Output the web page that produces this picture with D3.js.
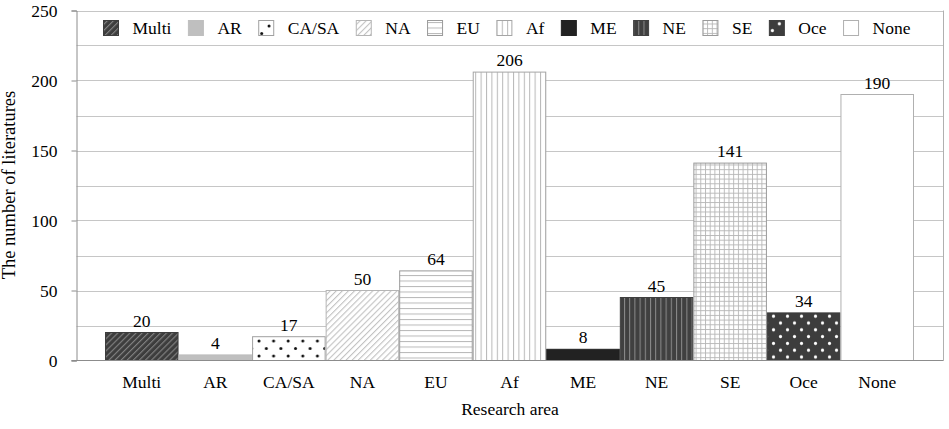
<!DOCTYPE html>
<html><head><meta charset="utf-8">
<script src="https://cdn.jsdelivr.net/npm/d3@7"></script>
<style>body{margin:0;background:#fff}svg{display:block}</style>
</head><body><svg id="c" width="949" height="429"></svg>
<script>
const categories = ["Multi","AR","CA/SA","NA","EU","Af","ME","NE","SE","Oce","None"];
const values = [20,4,17,50,64,206,8,45,141,34,190];
const yTicks = [0,50,100,150,200,250];
const yGrid = [25,50,75,100,125,150,175,200,225,250];

const FONT = "'Liberation Serif', 'Times New Roman', Tinos, 'DejaVu Serif', serif";
const svg = d3.select("#c").attr("font-family",FONT);
const defs = svg.append("defs");
function pat(id,w,h,bg,draw,transform){
  const p = defs.append("pattern").attr("id",id).attr("patternUnits","userSpaceOnUse").attr("width",w).attr("height",h);
  if(transform) p.attr("patternTransform",transform);
  p.append("rect").attr("width",w).attr("height",h).attr("fill",bg);
  draw(p);
}
pat("p-multi",4.3,10,"#3d3d3d",p=>p.append("line").attr("x1",0.6).attr("x2",0.6).attr("y1",0).attr("y2",10).attr("stroke","#8a8a8a").attr("stroke-width",1),"rotate(45)");
pat("p-na",4.3,10,"#fff",p=>p.append("line").attr("x1",0.6).attr("x2",0.6).attr("y1",0).attr("y2",10).attr("stroke","#b5b5b5").attr("stroke-width",0.9),"rotate(45)");
pat("p-eu",10,5.5,"#fff",p=>p.append("line").attr("x1",0).attr("x2",10).attr("y1",0.5).attr("y2",0.5).attr("stroke","#b8b8b8").attr("stroke-width",1));
pat("p-af",5.4,10,"#fff",p=>p.append("line").attr("x1",0.5).attr("x2",0.5).attr("y1",0).attr("y2",10).attr("stroke","#b8b8b8").attr("stroke-width",1));
pat("p-ne",5.2,10,"#404040",p=>p.append("line").attr("x1",0.5).attr("x2",0.5).attr("y1",0).attr("y2",10).attr("stroke","#8c8c8c").attr("stroke-width",1));
pat("p-se",4.7,4.7,"#fff",p=>{p.append("line").attr("x1",0.5).attr("x2",0.5).attr("y1",0).attr("y2",4.7).attr("stroke","#b5b5b5").attr("stroke-width",0.9);p.append("line").attr("x1",0).attr("x2",4.7).attr("y1",0.5).attr("y2",0.5).attr("stroke","#b5b5b5").attr("stroke-width",0.9);});
pat("p-casa",14.6,15,"#fff",p=>{p.append("circle").attr("cx",3.5).attr("cy",3.5).attr("r",1.5).attr("fill","#111");p.append("circle").attr("cx",10.8).attr("cy",11).attr("r",1.5).attr("fill","#111");});
pat("p-oce",14,13.6,"#3d3d3d",p=>{p.append("circle").attr("cx",3.5).attr("cy",3.4).attr("r",1.6).attr("fill","#fff");p.append("circle").attr("cx",10.5).attr("cy",10.2).attr("r",1.6).attr("fill","#fff");});

const styles = {
  "Multi":{fill:"url(#p-multi)",stroke:"#3d3d3d"},
  "AR":{fill:"#bfbfbf",stroke:"#bfbfbf"},
  "CA/SA":{fill:"url(#p-casa)",stroke:"#a0a0a0"},
  "NA":{fill:"url(#p-na)",stroke:"#b5b5b5"},
  "EU":{fill:"url(#p-eu)",stroke:"#9a9a9a"},
  "Af":{fill:"url(#p-af)",stroke:"#a5a5a5"},
  "ME":{fill:"#222",stroke:"#222"},
  "NE":{fill:"url(#p-ne)",stroke:"#404040"},
  "SE":{fill:"url(#p-se)",stroke:"#9a9a9a"},
  "Oce":{fill:"url(#p-oce)",stroke:"#3d3d3d"},
  "None":{fill:"#fff",stroke:"#b0b0b0"}
};

const left=76.5, right=943.5;
const y = d3.scaleLinear().domain([0,250]).range([360.5,10.5]);
const x = d3.scaleBand().domain(categories).range([105,914]).padding(0);

svg.append("g").selectAll("line").data(yGrid).join("line")
  .attr("x1",left).attr("x2",right).attr("y1",d=>Math.round(y(d))+0.5).attr("y2",d=>Math.round(y(d))+0.5)
  .attr("stroke","#c6c6c6").attr("stroke-width",1);
svg.append("line").attr("x1",right).attr("x2",right).attr("y1",y(250)).attr("y2",y(0)).attr("stroke","#b0b0b0");

svg.append("g").selectAll("rect").data(categories).join("rect")
  .attr("x",d=>x(d)+0.5).attr("width",x.bandwidth()-1)
  .attr("y",(d,i)=>y(values[i])).attr("height",(d,i)=>y(0)-y(values[i]))
  .attr("fill",d=>styles[d].fill).attr("stroke",d=>styles[d].stroke).attr("stroke-width",1);

svg.append("g").selectAll("text").data(categories).join("text")
  .attr("x",d=>x(d)+x.bandwidth()/2).attr("y",(d,i)=>y(values[i])-6)
  .attr("text-anchor","middle").attr("font-family",FONT).attr("font-size","17.5px").attr("fill","#000").text((d,i)=>values[i]);

const ya = svg.append("g").attr("transform",`translate(${left},0)`)
  .call(d3.axisLeft(y).tickValues(yTicks).tickSize(5).tickPadding(14));
ya.attr("font-family",FONT);
ya.select(".domain").attr("stroke","#8c8c8c");
ya.selectAll(".tick line").attr("stroke","#8c8c8c");
ya.selectAll("text").attr("font-size","17.5px").attr("font-family",FONT).attr("fill","#000");

svg.append("line").attr("x1",left-5).attr("x2",right).attr("y1",y(0)).attr("y2",y(0)).attr("stroke","#8c8c8c");

svg.append("g").selectAll("text").data(categories).join("text")
  .attr("x",d=>x(d)+x.bandwidth()/2).attr("y",388).attr("text-anchor","middle").attr("font-family",FONT).attr("font-size","17.5px").attr("fill","#000").text(d=>d);

svg.append("text").attr("x",(left+right)/2).attr("y",415).attr("text-anchor","middle").attr("font-family",FONT).attr("font-size","17.5px").attr("fill","#000").text("Research area");
svg.append("text").attr("transform","translate(15,185) rotate(-90)").attr("text-anchor","middle").attr("font-family",FONT).attr("font-size","18.5px").attr("fill","#000").text("The number of literatures");

const lg = svg.append("g");
let lx = 103;
categories.forEach(c=>{
  const g = lg.append("g").attr("transform",`translate(${lx},0)`);
  g.append("rect").attr("x",0.5).attr("y",20.5).attr("width",15).attr("height",15).attr("fill",styles[c].fill).attr("stroke",styles[c].stroke);
  const t = g.append("text").attr("x",29.5).attr("y",34).attr("font-family",FONT).attr("font-size","17.5px").attr("fill","#000").text(c);
  lx += 29.5 + t.node().getComputedTextLength() + 16.5;
});
</script></body></html>
